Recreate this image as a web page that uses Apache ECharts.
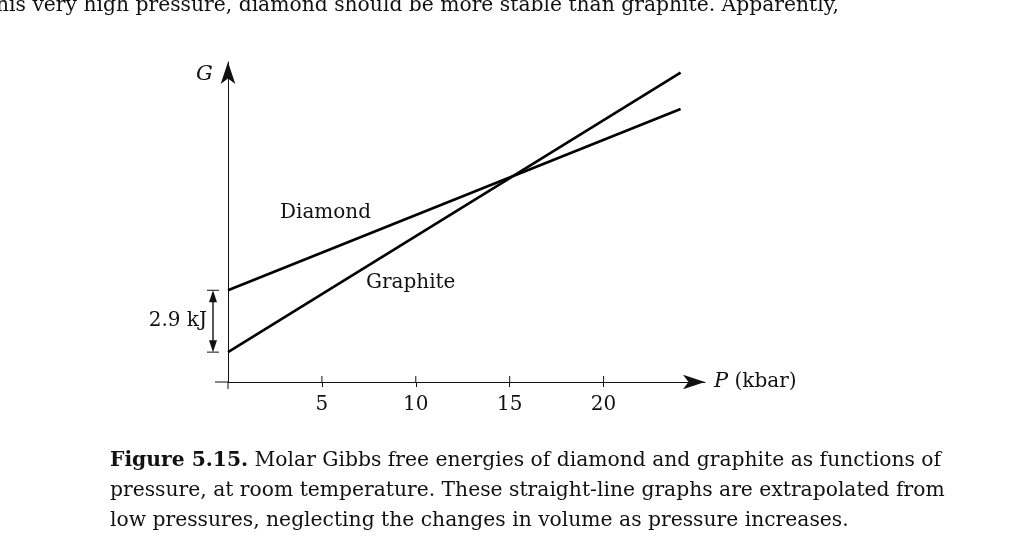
<!DOCTYPE html>
<html>
<head>
<meta charset="utf-8">
<script src="https://cdn.jsdelivr.net/npm/echarts@6/dist/echarts.min.js"></script>
<style>
  html, body { margin: 0; padding: 0; background: #fff; }
  #chart { position: absolute; left: 0; top: 0; width: 1024px; height: 551px; }
  .txt { position: absolute; font-family: 'DejaVu Serif', serif; font-size: 20.3px; color: #111; white-space: nowrap; }
</style>
</head>
<body>
<div id="chart"></div>
<div class="txt" style="left:-4px; top:-8px;">his very high pressure, diamond should be more stable than graphite. Apparently,</div>
<div class="txt" style="left:110px; top:444px; line-height:30px;">
  <b>Figure 5.15.</b> Molar Gibbs free energies of diamond and graphite as functions of<br>
  pressure, at room temperature. These straight-line graphs are extrapolated from<br>
  low pressures, neglecting the changes in volume as pressure increases.
</div>
<script>
// pressure in kbar, G in kJ (offset arbitrary)
const pressure = [0, 24.1]
const diamond = [4.3, 12.8]
const graphite = [1.4, 14.5]
const tickValues = [0, 5, 10, 15, 20]
const labelValues = [5, 10, 15, 20]

const font = "'DejaVu Serif', serif"
const chart = echarts.init(document.getElementById('chart'))

const option = {
  animation: false,
  grid: { left: 228, right: 319, top: 62, bottom: 169 },
  xAxis: {
    type: 'value',
    min: 0,
    max: 25.4,
    axisLine: { show: true, lineStyle: { color: '#111', width: 1 }, symbol: ['none', 'arrow'], symbolSize: [11, 22] },
    axisTick: { show: true, customValues: tickValues.slice(1), length: 5, inside: false, lineStyle: { color: '#111' } },
    axisLabel: { customValues: labelValues, margin: 13, color: '#111', fontSize: 20, fontFamily: font },
    splitLine: { show: false }
  },
  yAxis: {
    type: 'value',
    min: 0,
    max: 15,
    axisLine: { show: true, lineStyle: { color: '#111', width: 1 }, symbol: ['none', 'arrow'], symbolSize: [11, 22] },
    axisTick: { show: false },
    axisLabel: { show: false },
    splitLine: { show: false }
  },
  series: [
    { name: 'Diamond', type: 'line', symbol: 'none', lineStyle: { color: '#000', width: 2.6 },
      data: pressure.map((p, i) => [p, diamond[i]]) },
    { name: 'Graphite', type: 'line', symbol: 'none', lineStyle: { color: '#000', width: 2.6 },
      data: pressure.map((p, i) => [p, graphite[i]]) }
  ]
}
chart.setOption(option)

const toPx = (p, g) => chart.convertToPixel({ gridIndex: 0 }, [p, g])
const o = toPx(0, 0)
const d0 = toPx(0, diamond[0])
const g0 = toPx(0, graphite[0])
const ax = o[0] - 15
const line = (x1, y1, x2, y2, w) => ({ type: 'line', shape: { x1, y1, x2, y2 }, style: { stroke: '#111', lineWidth: w || 1 } })
const graphic = [
  line(o[0] - 13, o[1], o[0], o[1]),
  line(o[0], o[1], o[0], o[1] + 7),
  ...labelValues.map(v => {
    const p = toPx(v, 0)
    return line(p[0], p[1], p[0], p[1] - 6)
  }),
  // 2.9 kJ double arrow
  line(ax - 6, d0[1], ax + 6, d0[1]),
  line(ax - 6, g0[1], ax + 6, g0[1]),
  line(ax, d0[1] + 8, ax, g0[1] - 8, 1.4),
  { type: 'polygon', shape: { points: [[ax, d0[1]], [ax - 4, d0[1] + 12], [ax + 4, d0[1] + 12]] }, style: { fill: '#111' } },
  { type: 'polygon', shape: { points: [[ax, g0[1]], [ax - 4, g0[1] - 12], [ax + 4, g0[1] - 12]] }, style: { fill: '#111' } },
  { type: 'text', x: ax - 6, y: (d0[1] + g0[1]) / 2, style: { text: '2.9 kJ', font: '20px ' + font, fill: '#111', align: 'right', verticalAlign: 'middle' } },
  { type: 'text', x: 280, y: 213, style: { text: 'Diamond', font: '20px ' + font, fill: '#111', verticalAlign: 'middle' } },
  { type: 'text', x: 366, y: 283, style: { text: 'Graphite', font: '20px ' + font, fill: '#111', verticalAlign: 'middle' } },
  { type: 'text', x: 196, y: 75, style: { text: 'G', font: 'italic 21px ' + font, fill: '#111', verticalAlign: 'middle' } },
  { type: 'text', x: 714, y: o[1], style: { text: '{i|P} (kbar)', font: '20px ' + font, fill: '#111', verticalAlign: 'middle',
    rich: { i: { fontStyle: 'italic', fontSize: 21, fontFamily: font } } } }
]
chart.setOption({ graphic })
</script>
</body>
</html>
